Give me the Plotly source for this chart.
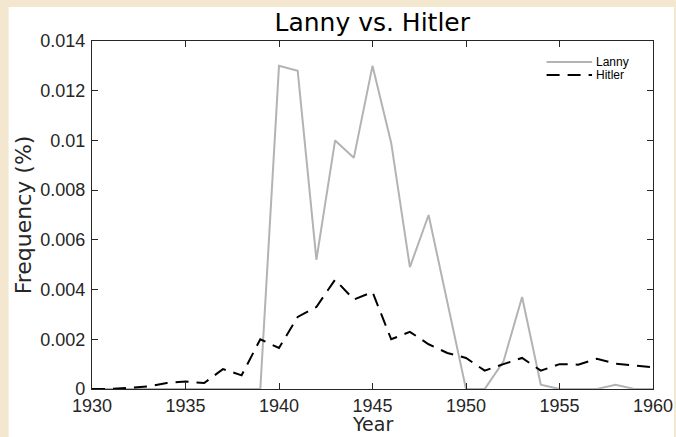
import plotly.graph_objects as go

years = list(range(1930, 1961))

lanny = [0, 0, 0, 0, 0, 0, 0, 0, 0, 0,
         0.0130, 0.0128, 0.0052, 0.0100, 0.0093, 0.0130, 0.0099, 0.0049, 0.0070, 0.0035,
         0, 0, 0.0011, 0.0037, 0.00017, 0, 0, 0, 0.00017, 0, 0]

hitler = [0, 0, 0.00005, 0.0001, 0.00024, 0.0003, 0.00024, 0.0008, 0.00055, 0.0020,
          0.00165, 0.0029, 0.0033, 0.0044, 0.0036, 0.0039, 0.0020, 0.0023, 0.0018, 0.00145,
          0.00125, 0.00074, 0.0010, 0.00125, 0.00074, 0.0010, 0.00098, 0.00122, 0.00102, 0.00096, 0.00087]

series_names = ["Lanny", "Hitler"]
x_ticks = [1930, 1935, 1940, 1945, 1950, 1955, 1960]
y_ticks = [0, 0.002, 0.004, 0.006, 0.008, 0.01, 0.012, 0.014]
y_labels = ["0", "0.002", "0.004", "0.006", "0.008", "0.01", "0.012", "0.014"]

tick_font = "Liberation Sans, Arial, Helvetica, sans-serif"
title_font = "DejaVu Sans, Liberation Sans, sans-serif"
axis_color = "#262626"

lanny_line = dict(color="#b3b3b3", width=2)
hitler_line = dict(color="#000000", width=2, dash="13px,8px")

W, H = 676, 437
L, R, T, B = 91.5, 23, 41, 48
pw, ph = W - L - R, H - T - B

fig = go.Figure()
fig.add_trace(go.Scatter(x=years, y=lanny, mode="lines", name=series_names[0],
                         line=lanny_line, showlegend=False))
fig.add_trace(go.Scatter(x=years, y=hitler, mode="lines", name=series_names[1],
                         line=hitler_line, showlegend=False))


def px_x(x):
    return (x - L) / pw


def px_y(y):
    return (H - B - y) / ph


# white figure panel over a parchment-coloured page
fig.add_shape(type="rect", xref="paper", yref="paper",
              x0=px_x(8), x1=px_x(674), y0=px_y(H + 2), y1=px_y(7),
              fillcolor="white", line=dict(width=0), layer="below")

# compact legend in the upper-right corner
for name, style, ypix in [(series_names[0], lanny_line, 62), (series_names[1], hitler_line, 75)]:
    fig.add_shape(type="line", xref="paper", yref="paper",
                  x0=px_x(546.5), x1=px_x(592), y0=px_y(ypix), y1=px_y(ypix),
                  line=style)
    fig.add_annotation(xref="paper", yref="paper", x=px_x(594), y=px_y(ypix),
                       text=name, showarrow=False, xanchor="left", yanchor="middle",
                       font=dict(family=tick_font, size=12, color="#000000"))

# x-axis title placed just under the tick labels
fig.add_annotation(xref="paper", yref="paper", x=0.5, y=px_y(436), borderpad=0,
                   text="Year", showarrow=False, xanchor="center", yanchor="bottom",
                   font=dict(family=title_font, size=19, color=axis_color))

axis_common = dict(showgrid=False, zeroline=False, showline=True, linecolor=axis_color,
                   linewidth=1.3, mirror="ticks", ticks="inside", ticklen=6,
                   tickcolor=axis_color, tickwidth=1.3, automargin=False,
                   tickfont=dict(family=tick_font, size=18, color=axis_color))

fig.update_xaxes(range=[1930, 1960], tickvals=x_ticks, **axis_common)
fig.update_yaxes(range=[0, 0.014], tickvals=y_ticks, ticktext=y_labels, ticklabelstandoff=2,
                 **axis_common,
                 title=dict(text="Frequency (%)",
                            font=dict(family=title_font, size=22, color=axis_color), standoff=2))

fig.update_layout(
    width=W, height=H,
    margin=dict(l=L, r=R, t=T, b=B, autoexpand=False),
    paper_bgcolor="#f3e7cf",
    plot_bgcolor="white",
    font=dict(family=tick_font, color=axis_color),
    title=dict(text="Lanny vs. Hitler", x=(L + pw / 2) / W, xanchor="center",
               y=1 - 22 / H, yanchor="middle",
               font=dict(family=title_font, size=25, color="#000000")),
    showlegend=False,
)

fig.write_html("out.html")
